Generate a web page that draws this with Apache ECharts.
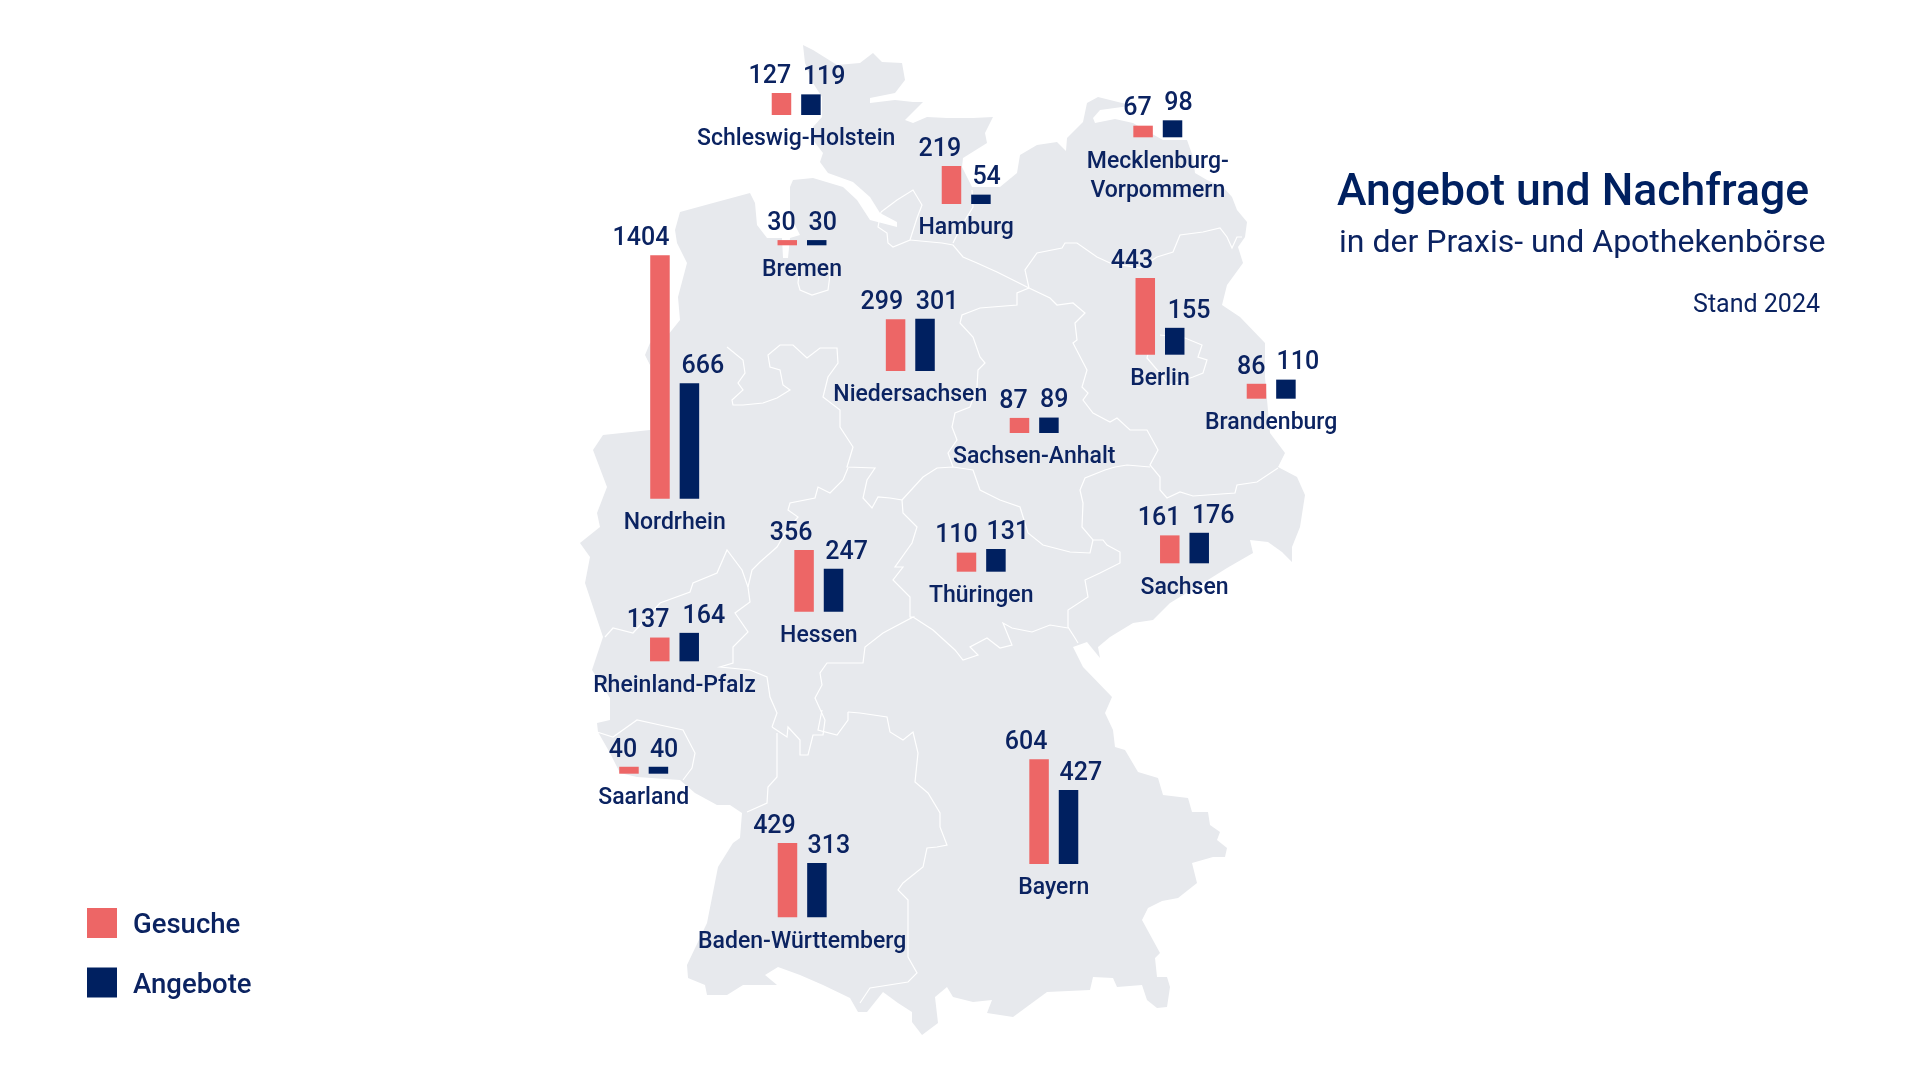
<!DOCTYPE html>
<html>
<head>
<meta charset="utf-8">
<title>Angebot und Nachfrage</title>
<script src="https://cdn.jsdelivr.net/npm/echarts@6/dist/echarts.min.js"></script>
<style>
html, body { margin: 0; padding: 0; background: #fff; }
#main { width: 1920px; height: 1080px; }
</style>
</head>
<body>
<div id="main"></div>
<script>
var states = ['Schleswig-Holstein', 'Hamburg', 'Mecklenburg-\nVorpommern', 'Bremen', 'Nordrhein', 'Niedersachsen', 'Berlin', 'Brandenburg', 'Sachsen-Anhalt', 'Hessen', 'Thüringen', 'Sachsen', 'Rheinland-Pfalz', 'Saarland', 'Baden-Württemberg', 'Bayern'];
var gesuche = [127, 219, 67, 30, 1404, 299, 443, 86, 87, 356, 110, 161, 137, 40, 429, 604];
var angebote = [119, 54, 98, 30, 666, 301, 155, 110, 89, 247, 131, 176, 164, 40, 313, 427];

// where each small bar group sits on the map: centre x, baseline y
var groupCenter = [796.2, 966.2, 1157.8, 802, 674.7, 910.3, 1160, 1271.2, 1034.2, 818.8, 981.2, 1184.5, 674.5, 643.7, 802.2, 1053.8];
var groupBase = [115, 204, 137.3, 245.3, 498.7, 371, 354.7, 398.7, 433, 611.7, 571.7, 563.3, 661.3, 773.7, 917.3, 864];
// number labels are pushed outwards from their bars
var labelShiftLeft = [-11.7, -11.7, -5.7, -5.7, -19, -13.7, -13.3, -5.3, -6, -13, -10, -10.7, -11.7, -6, -13, -13];
var labelShiftRight = [13.3, 5.7, 6, 6, 13.5, 12, 14.3, 12, 5.3, 13, 12, 14, 14.7, 5.7, 12, 12.3];
var pxPerUnit = 0.1734;

// map background, traced in page pixels
var germanyOutline = [[803,45],[813,50],[837,65],[860,63],[873,53],[882,62],[902,63],[905,80],[895,93],[870,98],[870,103],[895,100],[913,102],[923,102],[905,120],[913,123],[927,117],[947,118],[973,118],[993,117],[985,133],[987,143],[963,158],[962,167],[972,187],[1000,187],[1017,173],[1020,155],[1037,145],[1057,142],[1066,151],[1067,138],[1083,122],[1087,103],[1098,97],[1122,103],[1135,105],[1122,107],[1100,110],[1093,118],[1095,123],[1115,119],[1133,123],[1145,130],[1163,140],[1180,140],[1187,140],[1193,157],[1195,173],[1207,180],[1223,187],[1232,197],[1237,210],[1247,222],[1245,237],[1238,247],[1243,263],[1227,285],[1222,305],[1240,317],[1265,343],[1265,377],[1270,433],[1285,453],[1278,467],[1297,477],[1305,495],[1300,527],[1292,547],[1292,562],[1282,552],[1268,542],[1250,540],[1253,553],[1227,568],[1203,583],[1170,603],[1153,620],[1133,623],[1110,637],[1098,647],[1100,658],[1087,642],[1073,647],[1083,667],[1112,697],[1105,713],[1113,730],[1115,747],[1125,750],[1138,772],[1158,778],[1163,795],[1188,798],[1192,812],[1208,812],[1210,825],[1220,832],[1217,840],[1227,848],[1225,857],[1213,857],[1192,863],[1197,883],[1178,898],[1162,901],[1148,908],[1142,920],[1160,953],[1155,958],[1157,977],[1167,977],[1170,987],[1167,1007],[1157,1008],[1147,1000],[1142,985],[1117,987],[1113,978],[1093,977],[1090,990],[1047,992],[1032,1003],[1013,1017],[987,1013],[992,1000],[973,1002],[953,997],[947,987],[935,997],[938,1023],[922,1035],[912,1022],[912,1012],[898,1003],[883,992],[867,1012],[858,1012],[850,998],[823,985],[800,975],[778,967],[765,975],[777,985],[743,985],[727,995],[707,995],[705,985],[688,978],[687,965],[707,923],[718,867],[733,843],[740,838],[742,813],[730,805],[717,805],[695,793],[680,780],[637,777],[620,773],[610,753],[598,732],[597,723],[610,720],[610,698],[592,670],[603,637],[585,583],[590,557],[580,543],[600,527],[597,513],[607,487],[593,450],[603,435],[650,430],[650,365],[645,355],[650,343],[668,335],[680,320],[678,297],[687,263],[677,243],[675,230],[680,212],[713,203],[750,193],[755,203],[757,225],[767,238],[782,238],[783,258],[788,258],[790,238],[800,235],[790,215],[790,187],[793,180],[813,178],[843,187],[857,200],[870,220],[897,227],[897,222],[880,213],[870,197],[853,182],[828,173],[820,162],[823,153],[813,140],[813,127],[822,117],[822,97],[813,83],[805,63]];

var stateBorders = [
    [[881,212],[897,200],[913,190],[922,205],[917,218],[910,240],[893,247],[888,243],[887,233],[878,227],[881,212]],
    [[910,240],[942,243],[953,245],[963,257],[977,263],[997,272],[1013,280],[1029,288]],
    [[972,190],[973,207],[962,225],[953,243]],
    [[1029,288],[1025,270],[1037,253],[1062,248],[1065,243],[1077,243],[1097,257],[1110,263],[1140,268],[1157,257],[1173,252],[1180,235],[1203,232],[1220,228],[1227,237],[1232,248],[1237,237],[1242,237]],
    [[1029,288],[1050,298],[1057,305],[1073,303],[1085,313],[1075,323],[1077,340],[1073,343],[1087,370],[1082,387],[1088,393],[1083,400],[1093,413],[1110,422],[1117,418],[1130,430],[1147,430],[1158,450],[1150,465],[1160,477],[1160,490],[1167,498],[1180,492],[1193,496],[1235,493],[1237,485],[1257,482],[1278,468]],
    [[1150,467],[1127,465],[1115,467],[1105,470],[1085,478],[1080,490],[1083,503],[1082,527],[1093,540],[1103,540],[1107,545],[1120,552],[1120,563],[1100,573],[1085,580],[1088,597],[1068,610],[1068,627],[1075,638],[1078,643]],
    [[1068,628],[1050,625],[1032,632],[1012,628],[1003,623],[1012,645],[1000,648],[987,638],[970,647],[978,655],[963,660],[955,650],[933,630],[913,617]],
    [[1093,540],[1090,553],[1070,552],[1043,545],[1028,533],[1020,507],[1000,500],[980,490],[973,470],[953,467],[937,468],[923,477],[902,500]],
    [[1029,288],[1017,293],[1017,305],[980,308],[962,315],[960,323],[973,337],[980,357],[985,363],[978,370],[977,387],[970,407],[955,413],[952,427],[957,440],[948,453],[953,467]],
    [[727,347],[743,360],[745,373],[738,383],[743,390],[732,400],[733,405],[743,405],[763,403],[777,398],[790,390],[783,385],[780,370],[770,367],[768,355],[780,345],[793,345],[807,358],[820,348],[837,348],[838,363],[828,377],[823,397],[840,410],[840,427],[853,447],[847,467],[875,468],[867,480],[863,498],[872,508],[878,497],[890,498],[902,500],[903,513],[917,527],[912,543],[895,567],[903,567],[893,580],[910,597],[910,617],[913,617],[883,633],[865,647],[863,663],[827,663],[820,673],[822,685],[815,698],[825,720],[823,735],[813,735],[808,755],[800,755],[800,740],[788,727],[787,737],[772,727]],
    [[822,710],[818,730],[837,735],[848,720],[848,712]],
    [[848,712],[860,713],[887,717],[890,732],[903,740],[913,732],[918,753],[915,782],[928,793],[940,813],[940,827],[947,845],[937,847],[927,848],[923,867],[903,883],[898,890],[908,900],[908,957],[917,973],[908,982],[870,988],[860,1003]],
    [[777,733],[777,777],[768,787],[767,803],[747,812]],
    [[772,727],[777,713],[770,697],[767,677],[750,670],[720,667],[733,663],[733,647],[748,632],[735,613],[750,602],[748,587]],
    [[748,587],[752,570],[760,562],[777,547],[787,530],[798,517],[788,510],[790,503],[815,498],[818,487],[830,493],[843,480],[848,468]],
    [[748,587],[742,570],[727,550],[717,573],[693,583],[690,592],[660,603],[633,633],[613,628],[605,637]],
    [[597,732],[613,737],[637,720],[660,725],[683,730],[695,753],[692,768],[683,780]],
    [[800,265],[798,283],[800,290],[812,295],[828,290],[830,275],[830,265]],
    [[1160,335],[1185,338],[1202,345],[1198,357],[1207,360],[1203,373],[1193,377],[1170,385],[1147,358],[1150,345]]
];

var textColor = '#0B2361';
var fontName = 'Roboto';

echarts.registerMap('germany', {
    type: 'FeatureCollection',
    features: [{
        type: 'Feature',
        properties: { name: 'Deutschland' },
        geometry: { type: 'Polygon', coordinates: [germanyOutline] }
    }]
});

var grids = [], xAxes = [], yAxes = [];
var series = [{
    type: 'lines',
    coordinateSystem: 'geo',
    polyline: true,
    silent: true,
    z: 1,
    lineStyle: { color: '#fff', width: 1.2, opacity: 1 },
    data: stateBorders.map(function (line) { return { coords: line }; })
}];

for (var i = 0; i < states.length; i++) {
    var groupMax = Math.max(gesuche[i], angebote[i]);
    var groupHeight = groupMax * pxPerUnit;
    grids.push({ left: groupCenter[i] - 40, top: groupBase[i] - groupHeight, width: 80, height: groupHeight });
    xAxes.push({
        type: 'category',
        gridIndex: i,
        z: 10,
        data: [states[i]],
        axisLine: { show: false },
        axisTick: { show: false },
        axisLabel: { color: textColor, fontFamily: fontName, fontSize: 23, fontWeight: 500, margin: 10, lineHeight: 29, interval: 0 }
    });
    yAxes.push({ type: 'value', gridIndex: i, min: 0, max: groupMax, show: false });
    series.push(makeBar('Gesuche', '#ED6666', gesuche[i], i, labelShiftLeft[i]));
    series.push(makeBar('Angebote', '#002060', angebote[i], i, labelShiftRight[i]));
}

function makeBar(name, color, value, index, shift) {
    return {
        name: name,
        type: 'bar',
        xAxisIndex: index,
        yAxisIndex: index,
        barWidth: 19.5,
        barGap: '51%',
        z: 3,
        itemStyle: { color: color },
        label: {
            show: true,
            position: 'top',
            distance: 4,
            offset: [shift, 0],
            color: textColor,
            fontFamily: fontName,
            fontSize: 25,
            fontWeight: 500
        },
        data: [value]
    };
}

var option = {
    animation: false,
    backgroundColor: '#fff',
    title: [
        { text: 'Angebot und Nachfrage', left: 1337, top: 171, padding: 0, textStyle: { color: '#002060', fontFamily: fontName, fontSize: 44.5, fontWeight: 500 } },
        { text: 'in der Praxis- und Apothekenbörse', left: 1339, top: 228, padding: 0, textStyle: { color: '#0B2361', fontFamily: fontName, fontSize: 32, fontWeight: 400 } },
        { text: 'Stand 2024', right: 100, top: 293, padding: 0, textStyle: { color: '#0B2361', fontFamily: fontName, fontSize: 25, fontWeight: 400 } }
    ],
    legend: {
        orient: 'vertical',
        left: 87,
        top: 908,
        padding: 0,
        icon: 'rect',
        itemWidth: 30,
        itemHeight: 30,
        itemGap: 27,
        selectedMode: false,
        data: ['Gesuche', 'Angebote'],
        formatter: function (name) { return '{a|' + name + '}'; },
        textStyle: {
            padding: [0, 0, 0, 11],
            rich: {
                a: { color: textColor, fontFamily: fontName, fontSize: 27.5, fontWeight: 500, padding: [7, 0, 0, 0] }
            }
        }
    },
    geo: {
        map: 'germany',
        silent: true,
        roam: false,
        z: 0,
        left: 0,
        top: 0,
        width: 1920,
        height: 1080,
        projection: {
            project: function (p) { return p; },
            unproject: function (p) { return p; }
        },
        boundingCoords: [[0, 0], [1920, 1080]],
        label: { show: false },
        itemStyle: { areaColor: '#E7E9ED', borderWidth: 0, borderColor: '#E7E9ED' }
    },
    grid: grids,
    xAxis: xAxes,
    yAxis: yAxes,
    series: series
};

var myChart = echarts.init(document.getElementById('main'));
myChart.setOption(option);
</script>
</body>
</html>
